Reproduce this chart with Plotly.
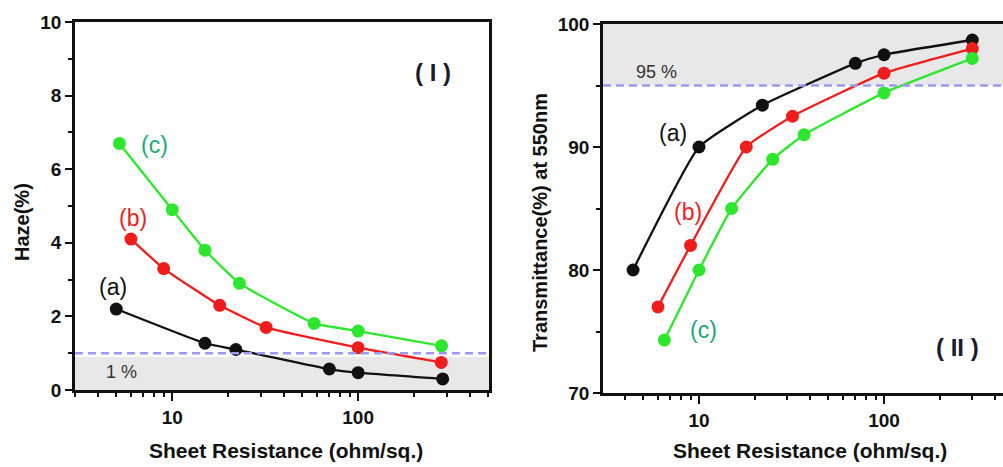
import numpy as np
import plotly.graph_objects as go

W, H = 1003, 467

# ---- data: panel I (Haze) ----
haze_a_x = [5, 15, 22, 70, 100, 285]
haze_a_y = [2.2, 1.27, 1.1, 0.57, 0.47, 0.3]
haze_b_x = [6, 9, 18, 32, 100, 280]
haze_b_y = [4.1, 3.3, 2.3, 1.7, 1.15, 0.75]
haze_c_x = [5.2, 10, 15, 23, 58, 100, 281]
haze_c_y = [6.7, 4.9, 3.8, 2.9, 1.81, 1.6, 1.2]

# ---- data: panel II (Transmittance) ----
tr_a_x = [4.4, 10, 22, 70, 100, 300]
tr_a_y = [80, 90, 93.4, 96.8, 97.5, 98.7]
tr_b_x = [6, 9, 18, 32, 100, 300]
tr_b_y = [77, 82, 90, 92.5, 96, 98]
tr_c_x = [6.5, 10, 15, 25, 37, 100, 300]
tr_c_y = [74.3, 80, 85, 89, 91, 94.4, 97.2]

x_major = [10, 100]
x_major_text = ["10", "100"]
x_minor = [3, 4, 5, 6, 7, 8, 9, 20, 30, 40, 50, 60, 70, 80, 90, 200, 300, 400, 500]

BLACK = "#111111"
RED = "#f01d1d"
GREEN = "#2fe62f"
LBL_C = "#1aa878"
DASH = "#9a9af0"
SHADE = "#e8e8e8"
FONT = "Liberation Sans, Arial, sans-serif"


def px(x):
    return x / W


def py(y):
    return 1 - y / H


fig = go.Figure()

series = [
    (haze_a_x, haze_a_y, BLACK, "x", "y"),
    (haze_b_x, haze_b_y, RED, "x", "y"),
    (haze_c_x, haze_c_y, GREEN, "x", "y"),
    (tr_a_x, tr_a_y, BLACK, "x2", "y2"),
    (tr_b_x, tr_b_y, RED, "x2", "y2"),
    (tr_c_x, tr_c_y, GREEN, "x2", "y2"),
]
for xs, ys, col, xa, ya in series:
    fig.add_trace(go.Scatter(
        x=xs, y=ys, mode="lines+markers", xaxis=xa, yaxis=ya,
        line=dict(color=col, width=2.3, shape="spline", smoothing=0.4),
        marker=dict(color=col, size=13), showlegend=False, hoverinfo="skip",
    ))

tickfont = dict(family=FONT, size=19, color="#111111", weight="bold")

xcommon = dict(
    type="log", tickmode="array", tickvals=x_major, ticktext=x_major_text,
    ticks="outside", ticklen=8, tickwidth=2, tickcolor="#111111",
    minor=dict(tickmode="array", tickvals=x_minor, ticks="outside", ticklen=4,
               tickwidth=2, tickcolor="#111111"),
    showgrid=False, zeroline=False, showline=True, linecolor="#111111",
    linewidth=2.5, mirror=True, tickfont=tickfont, automargin=False,
)

fig.update_layout(
    width=W, height=H,
    margin=dict(l=0, r=0, t=0, b=0),
    paper_bgcolor="white", plot_bgcolor="white",
    xaxis=dict(domain=[px(75), px(489)], range=[np.log10(3.0), 2.704],
               anchor="y", **xcommon),
    yaxis=dict(domain=[py(390), py(22)], range=[0, 10], anchor="x",
               tickmode="array", tickvals=[0, 2, 4, 6, 8, 10],
               ticks="outside", ticklen=7, tickwidth=2, tickcolor="#111111",
               minor=dict(tickmode="array", tickvals=[1, 3, 5, 7, 9],
                          ticks="outside", ticklen=4, tickwidth=2,
                          tickcolor="#111111"),
               showgrid=False, zeroline=False, showline=True,
               linecolor="#111111", linewidth=2.5, mirror=True,
               tickfont=tickfont, automargin=False),
    xaxis2=dict(domain=[px(603), 1.0], range=[0.481, 2.643],
                anchor="y2", **xcommon),
    yaxis2=dict(domain=[py(393), py(24)], range=[70, 100], anchor="x2",
                tickmode="array", tickvals=[70, 80, 90, 100],
                ticks="outside", ticklen=7, tickwidth=2, tickcolor="#111111",
                minor=dict(tickmode="array", tickvals=[75, 85, 95],
                           ticks="outside", ticklen=4, tickwidth=2,
                           tickcolor="#111111"),
                showgrid=False, zeroline=False, showline=True,
                linecolor="#111111", linewidth=2.5, mirror=False,
                tickfont=tickfont, automargin=False),
)

# shaded regions and dashed thresholds
fig.add_shape(type="rect", xref="x domain", yref="y", x0=0, x1=1, y0=0, y1=0.9,
              fillcolor=SHADE, line_width=0, layer="below")
fig.add_shape(type="line", xref="x domain", yref="y", x0=0, x1=1, y0=1, y1=1,
              line=dict(color=DASH, width=2.5, dash="8px,5px"))
fig.add_shape(type="rect", xref="x2 domain", yref="y2", x0=0, x1=1, y0=95, y1=100,
              fillcolor=SHADE, line_width=0, layer="below")
fig.add_shape(type="line", xref="x2 domain", yref="y2", x0=0, x1=1, y0=95, y1=95,
              line=dict(color=DASH, width=2.5, dash="8px,5px"))


def ann(text, x, y, size, color="#111111", bold=False, angle=0):
    fig.add_annotation(
        text=text, x=px(x), y=py(y), xref="paper", yref="paper",
        showarrow=False, textangle=angle, xanchor="center", yanchor="middle",
        font=dict(family=FONT, size=size, color=color,
                  weight="bold" if bold else "normal"),
    )


# axis titles
ann("Sheet Resistance (ohm/sq.)", 286, 450, 21, bold=True)
ann("Sheet Resistance (ohm/sq.)", 810, 450, 21, bold=True)
ann("Haze(%)", 22, 222, 20, bold=True, angle=-90)
ann("Transmittance(%) at 550nm", 540, 223, 20, bold=True, angle=-90)

# panel labels
ann("( I )", 433, 73, 24, color="#1b1b30", bold=True)
ann("( II )", 957, 347, 24, color="#1b1b30", bold=True)
ann("1 %", 121, 372, 18, color="#333333")
ann("95 %", 656, 72, 18, color="#333333")

# series labels
ann("(a)", 113, 287, 23, color=BLACK)
ann("(b)", 133, 218, 23, color=RED)
ann("(c)", 154, 145, 23, color=LBL_C)
ann("(a)", 673, 133, 23, color=BLACK)
ann("(b)", 688, 212, 23, color=RED)
ann("(c)", 703, 330, 23, color=LBL_C)

fig.write_html("out.html")
